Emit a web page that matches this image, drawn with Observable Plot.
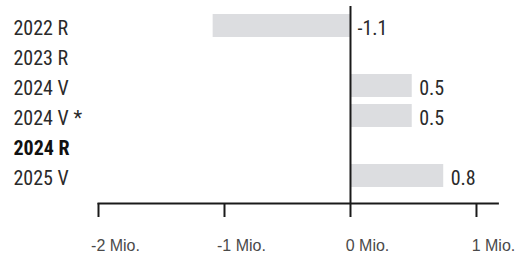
<!DOCTYPE html>
<html>
<head>
<meta charset="utf-8">
<script src="https://cdn.jsdelivr.net/npm/d3@7"></script>
<script src="https://cdn.jsdelivr.net/npm/@observablehq/plot@0.6"></script>
<style>
  html, body { margin: 0; padding: 0; background: #fff; }
  #chart svg { display: block; }
</style>
</head>
<body>
<div id="chart"></div>
<script>
const categories = ["2022 R", "2023 R", "2024 V", "2024 V *", "2024 R", "2025 V"];
const values = [-1.09, null, 0.49, 0.49, null, 0.74];
const valueLabels = ["-1.1", "", "0.5", "0.5", "", "0.8"];
const boldCategories = ["2024 R"];
const xTicks = [-2, -1, 0, 1];
const xTickLabels = ["-2 Mio.", "-1 Mio.", "0 Mio.", "1 Mio."];

const data = categories.map((c, i) => ({cat: c, value: values[i], label: valueLabels[i]}));
const withValue = data.filter(d => d.value != null);
const tickData = xTicks.map((t, i) => ({t, label: xTickLabels[i]}));

const narrow = "'Liberation Sans Narrow', 'Roboto Condensed', 'DejaVu Sans Condensed', sans-serif";

const chart = Plot.plot({
  width: 519,
  height: 258,
  marginLeft: 98,
  marginRight: 21.6,
  marginTop: 6,
  marginBottom: 55,
  x: {domain: [-2, 1.17]},
  y: {domain: categories, range: [5.35, 195.05], padding: 0.24},
  style: {background: "#fff"},
  marks: [
    Plot.barX(withValue, {x: "value", y: "cat", fill: "#dcdde0"}),
    Plot.ruleX([0], {stroke: "#1a1a1a", strokeWidth: 2}),
    Plot.frame({anchor: "bottom", stroke: "#1a1a1a", strokeWidth: 2}),
    Plot.axisX({
      ticks: xTicks,
      tickSize: 14,
      tickFormat: () => "",
      stroke: "#1a1a1a",
      strokeWidth: 2,
      strokeOpacity: 1,
      label: null
    }),
    Plot.text(tickData, {
      x: "t", text: "label", frameAnchor: "bottom", dy: 42, dx: 17,
      textAnchor: "middle", lineAnchor: "middle",
      fill: "#4a4a4a", fontSize: 16, fontFamily: "'Liberation Sans', Arial, sans-serif"
    }),
    Plot.axisY({ticks: [], label: null}),
    Plot.text(data.filter(d => !boldCategories.includes(d.cat)), {
      y: "cat", text: "cat", frameAnchor: "left", dx: -85, dy: 3, textAnchor: "start",
      fontSize: 20, fontFamily: narrow, fill: "#2a2a2a"
    }),
    Plot.text(data.filter(d => boldCategories.includes(d.cat)), {
      y: "cat", text: "cat", frameAnchor: "left", dx: -85, dy: 3, textAnchor: "start",
      fontSize: 20, fontWeight: "bold", fontFamily: narrow, fill: "#111"
    }),
    Plot.text(withValue, {
      x: d => Math.max(0, d.value), y: "cat", text: "label", dx: 7, dy: 3, textAnchor: "start",
      fontSize: 20, fontFamily: narrow, fill: "#2a2a2a"
    })
  ]
});
document.getElementById("chart").appendChild(chart);
</script>
</body>
</html>
